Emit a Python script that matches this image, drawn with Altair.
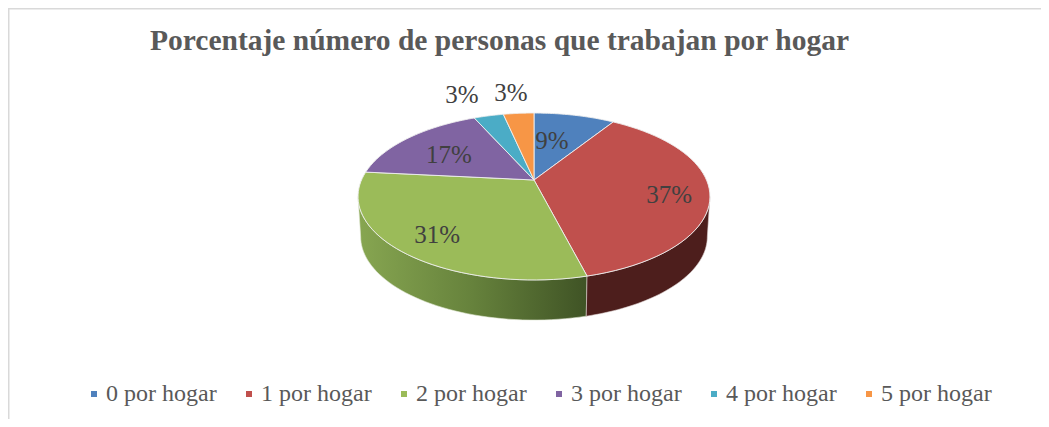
import math
import altair as alt
import pandas as pd

TITLE = "Porcentaje número de personas que trabajan por hogar"
categories = ["0 por hogar", "1 por hogar", "2 por hogar", "3 por hogar", "4 por hogar", "5 por hogar"]
values = [9.0, 37.0, 30.6, 16.7, 3.3, 3.4]
colors = ["#4f81bd", "#c0504d", "#9bbb59", "#8064a2", "#4bacc6", "#f79646"]
label_angle = [12.1, 103.4, 219.3, 302.3, 338.5, 353.0]
label_radius = [0.497, 0.805, 0.887, 0.583, 1.139, 1.093]

# tilt of the pie, and the scale of its model space
K = 0.1976
DEPTH = 0.5
BOTTOM_SHRINK = 0.985
PX_X, PX_Y = 172.5, 80.2
APEX_X, APEX_Y = 534, 180
W, H, PAD_TOP = 1033, 364, 47


def proj(deg, r=1.0):
    t = math.radians(deg)
    d = 1 + K * r * math.cos(t)
    return r * math.sin(t) / d, r * math.cos(t) / d


def arc(a0, a1, n=48):
    return [a0 + (a1 - a0) * i / n for i in range(n + 1)]


total = sum(values)
edges = [0.0]
for v in values:
    edges.append(edges[-1] + v / total * 360)

face_rows = []
for c, a0, a1 in zip(categories, edges[:-1], edges[1:]):
    pts = [(0.0, 0.0)] + [proj(a) for a in arc(a0, a1)] + [(0.0, 0.0)]
    for i, (x, y) in enumerate(pts):
        face_rows.append({"cat": c, "i": i, "x": x, "y": y})
faces = pd.DataFrame(face_rows)


def wall(a0, a1):
    top = [proj(a) for a in arc(a0, a1)]
    bot = [(x * BOTTOM_SHRINK, y - DEPTH) for x, y in reversed(top)]
    pts = top + bot + top[:1]
    return pd.DataFrame([{"i": i, "x": x, "y": y} for i, (x, y) in enumerate(pts)])


left_extreme = 360 - math.degrees(math.acos(-K))
right_extreme = math.degrees(math.acos(-K))

labels = pd.DataFrame({
    "text": [f"{round(v)}%" for v in values],
    "x": [q * math.sin(math.radians(a)) for q, a in zip(label_radius, label_angle)],
    "y": [q * math.cos(math.radians(a)) for q, a in zip(label_radius, label_angle)],
})

x_scale = alt.Scale(domain=[(8 - APEX_X) / PX_X, (8 + W - APEX_X) / PX_X], nice=False, zero=False)
y_scale = alt.Scale(domain=[(APEX_Y - (8 + PAD_TOP + H)) / PX_Y, (APEX_Y - (8 + PAD_TOP)) / PX_Y], nice=False, zero=False)
X = alt.X("x:Q", scale=x_scale, axis=None)
Y = alt.Y("y:Q", scale=y_scale, axis=None)
O = alt.Order("i:Q")

green_grad = alt.LinearGradient(
    gradient="linear", x1=0, x2=1, y1=0, y2=0,
    stops=[alt.GradientStop(offset=0, color="#87a651"),
           alt.GradientStop(offset=0.5, color="#66823c"),
           alt.GradientStop(offset=1, color="#3f5325")],
)

green_wall = alt.Chart(wall(edges[2], left_extreme)).mark_line(
    fill=green_grad, stroke="#dfe5d2", strokeWidth=0.6
).encode(x=X, y=Y, order=O)
red_wall = alt.Chart(wall(right_extreme, edges[2])).mark_line(
    fill="#4d1e1c", stroke="#dcd0cf", strokeWidth=0.6
).encode(x=X, y=Y, order=O)

face_layer = alt.Chart(faces).mark_line(stroke="#eeeeee", strokeWidth=0.9).encode(
    x=X, y=Y, order=O,
    fill=alt.Fill(
        "cat:N",
        scale=alt.Scale(domain=categories, range=colors),
        legend=alt.Legend(
            title=None, orient="none", direction="horizontal", columns=6,
            legendX=74, legendY=327, symbolType="square", symbolSize=36,
            symbolStrokeWidth=0, labelFont="Liberation Serif", labelFontSize=24,
            labelColor="#595959", columnPadding=20, labelOffset=0, gridAlign="all",
        ),
    ),
)

label_layer = alt.Chart(labels).mark_text(
    font="Liberation Serif", fontSize=25, color="#404040", align="center", baseline="middle"
).encode(x=X, y=Y, text="text:N")

top_rule = alt.Chart(pd.DataFrame({"a": [0]})).mark_rule(color="#d9d9d9", strokeWidth=1.5).encode(
    x=alt.value(0), x2=alt.value(W), y=alt.value(-PAD_TOP + 0.75)
)
left_rule = alt.Chart(pd.DataFrame({"a": [0]})).mark_rule(color="#d9d9d9", strokeWidth=1.5).encode(
    x=alt.value(0.75), y=alt.value(-PAD_TOP), y2=alt.value(H)
)

chart = alt.layer(green_wall, red_wall, face_layer, label_layer, top_rule, left_rule).properties(
    width=W, height=H,
    padding={"left": 0, "right": 0, "top": PAD_TOP, "bottom": 0},
    autosize=alt.AutoSizeParams(type="none"),
    title=alt.TitleParams(
        TITLE, anchor="start", frame="group", dx=142, offset=-49,
        font="Liberation Serif", fontSize=29.5, fontWeight="bold", color="#595959",
    ),
).configure_view(stroke=None)

chart.save("out.html", embed_options={"renderer": "svg", "actions": False})
